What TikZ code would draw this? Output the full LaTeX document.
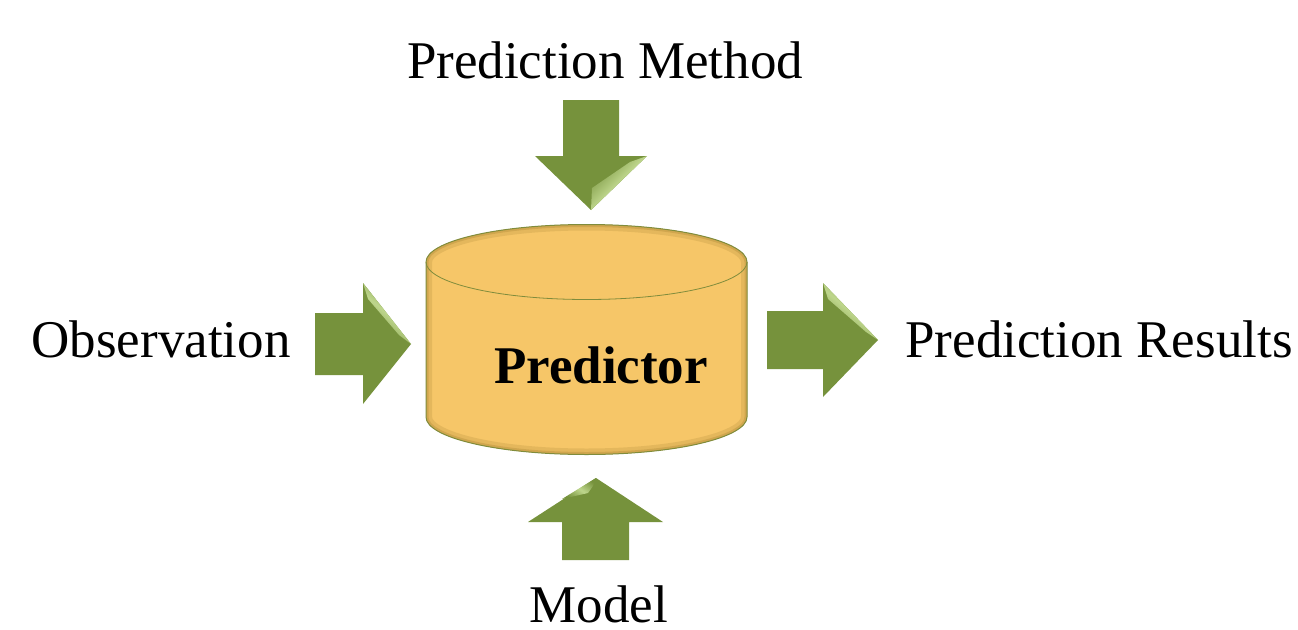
\documentclass[tikz,border=0pt]{standalone}
\usepackage{fontspec}
\setmainfont{Liberation Serif}
\usepackage{tikz}

\definecolor{arrowgreen}{RGB}{118,146,60}
\definecolor{glintgreen}{RGB}{190,214,140}
\definecolor{drumfill}{RGB}{246,198,104}
\definecolor{drumedge}{RGB}{196,156,70}
\definecolor{drumline}{RGB}{128,140,60}

\tikzset{
  blockarrow/.style={fill=arrowgreen,draw=none},
  glint/.style={top color=arrowgreen,bottom color=arrowgreen,middle color=glintgreen,
    shading angle=#1,draw=none},
  lbl/.style={font=\fontsize{53}{60}\selectfont,anchor=base,inner sep=0pt}
}

\begin{document}
\begin{tikzpicture}[x=1pt,y=-1pt]

\useasboundingbox (0,0) rectangle (1298,629);

% The drum (predictor)
\path[fill=drumfill] (426,262) -- (426,417)
  arc[start angle=180,end angle=0,x radius=160.5,y radius=37.5] -- (747,262)
  arc[start angle=0,end angle=-180,x radius=160.5,y radius=37.5] -- cycle;
\begin{scope}
\clip (426,262) -- (426,417)
  arc[start angle=180,end angle=0,x radius=160.5,y radius=37.5] -- (747,262)
  arc[start angle=0,end angle=-180,x radius=160.5,y radius=37.5] -- cycle;
\draw[drumedge,opacity=.35,line width=12pt] (426,262) -- (426,417)
  arc[start angle=180,end angle=0,x radius=160.5,y radius=37.5] -- (747,262)
  arc[start angle=0,end angle=-180,x radius=160.5,y radius=37.5] -- cycle;
\draw[drumedge,opacity=.6,line width=5pt] (426,262) -- (426,417)
  arc[start angle=180,end angle=0,x radius=160.5,y radius=37.5] -- (747,262)
  arc[start angle=0,end angle=-180,x radius=160.5,y radius=37.5] -- cycle;
\end{scope}
\draw[drumline,line width=0.8pt] (426,262)
  arc[start angle=180,end angle=0,x radius=160.5,y radius=37.5];
\draw[drumline,line width=1pt] (426,262) -- (426,417)
  arc[start angle=180,end angle=0,x radius=160.5,y radius=37.5] -- (747,262)
  arc[start angle=0,end angle=-180,x radius=160.5,y radius=37.5] -- cycle;
\node[font=\bfseries\fontsize{53}{60}\selectfont,anchor=base,inner sep=0pt] (pred) at (601,383) {Predictor};

% Block arrows
\fill[blockarrow] (563,100) -- (619,100) -- (619,156) -- (647,156) -- (591,210)
  -- (535,156) -- (563,156) -- cycle;
\shade[glint=45] (591,210) -- (592,188) -- (630,162) -- (647,156) -- cycle;

\fill[blockarrow] (315,313) -- (363,313) -- (363,283) -- (411,344) -- (363,404)
  -- (363,375) -- (315,375) -- cycle;
\shade[glint=-40] (363,283) -- (368,299) -- (399,335) -- (411,344) -- cycle;

\fill[blockarrow] (767,311) -- (823,311) -- (823,283) -- (878,340) -- (823,397)
  -- (823,369) -- (767,369) -- cycle;
\shade[glint=-40] (823,283) -- (828,299) -- (866,332) -- (878,340) -- cycle;

\fill[blockarrow] (562,560) -- (629,560) -- (629,522) -- (663,522) -- (596,478)
  -- (528,522) -- (562,522) -- cycle;
\shade[glint=-35] (596,478) -- (562,499) -- (588,493) -- (593,486) -- cycle;

% Labels
\node[lbl] (method) at (605,78) {Prediction Method};
\node[lbl] (obs) at (161,357) {Observation};
\node[lbl] (results) at (1099,357) {Prediction Results};
\node[lbl] (model) at (599,622) {Model};

\end{tikzpicture}
\end{document}
